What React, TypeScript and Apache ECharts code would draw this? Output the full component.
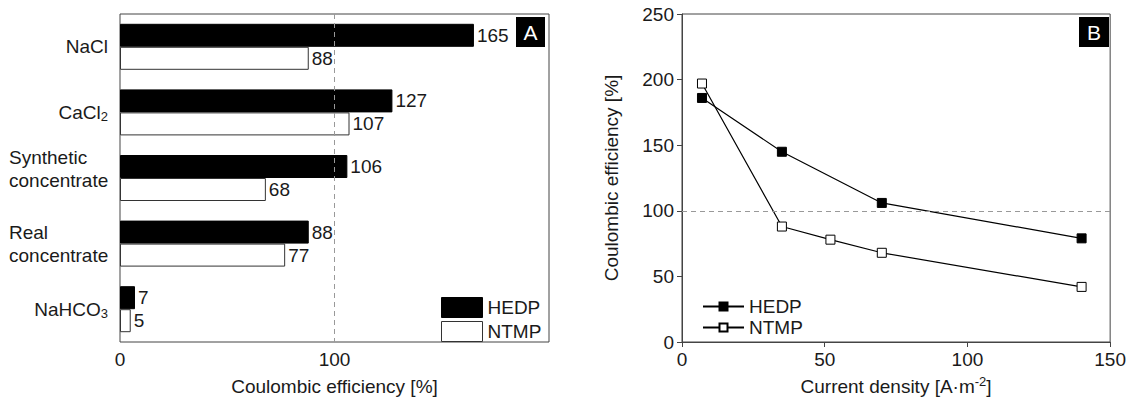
import React, { useEffect, useRef } from "react";
import * as echarts from "echarts";

// Panel A data
const categories = ["NaCl", "CaCl2", "Synthetic concentrate", "Real concentrate", "NaHCO3"];
const hedpBar = [165, 127, 106, 88, 7];
const ntmpBar = [88, 107, 68, 77, 5];

// Panel B data
const hedpLine: [number, number][] = [[7, 186], [35, 145], [70, 106], [140, 79]];
const ntmpLine: [number, number][] = [[7, 197], [35, 88], [52, 78], [70, 68], [140, 42]];

const FONT = "'Liberation Sans', Arial, sans-serif";
const TXT = "#1a1a1a";
const BORDER = "#444";
const FS = 19;

const catLabel = (v: string) => {
  switch (v) {
    case "NaCl": return "{n|NaCl}";
    case "CaCl2": return "{n|CaCl}{sub|2}";
    case "Synthetic concentrate": return "{l|Synthetic}\n{l|concentrate}\n{gap| }";
    case "Real concentrate": return "{l|Real}\n{l|concentrate}";
    case "NaHCO3": return "{n|NaHCO}{sub|3}";
    default: return v;
  }
};

function optionA(): any {
  return {
    animation: false,
    textStyle: { fontFamily: FONT },
    grid: { left: 120, right: 16, top: 14, bottom: 64, show: true, borderColor: BORDER, borderWidth: 1 },
    xAxis: {
      type: "value", min: 0, max: 200, interval: 100,
      axisLine: { show: false }, axisTick: { show: false }, splitLine: { show: false },
      axisLabel: { fontSize: FS, color: TXT, margin: 8, showMaxLabel: false, fontFamily: FONT },
      name: "Coulombic efficiency [%]", nameLocation: "middle", nameGap: 35,
      nameTextStyle: { fontSize: FS, color: TXT, fontFamily: FONT },
    },
    yAxis: {
      type: "category", data: categories, inverse: true,
      axisLine: { show: false }, axisTick: { show: false }, splitLine: { show: false },
      axisLabel: {
        margin: 12, color: TXT, fontSize: FS, fontFamily: FONT,
        formatter: catLabel,
        rich: {
          n: { fontSize: FS, lineHeight: 22, color: TXT, fontFamily: FONT },
          sub: { fontSize: 13, lineHeight: 10, verticalAlign: "bottom", color: TXT, fontFamily: FONT },
          l: { fontSize: FS, lineHeight: 23, width: 99, align: "left", color: TXT, fontFamily: FONT },
          gap: { fontSize: 6, lineHeight: 18 },
        },
      },
    },
    legend: {
      left: 436, top: 292, orient: "vertical", itemWidth: 41, itemHeight: 20, itemGap: 3,
      textStyle: { fontSize: FS, color: TXT, fontFamily: FONT },
      data: [
        { name: "HEDP", icon: "rect", itemStyle: { color: "#000", borderColor: "#000", borderWidth: 1 } },
        { name: "NTMP", icon: "rect", itemStyle: { color: "#fff", borderColor: "#333", borderWidth: 1 } },
      ],
    },
    graphic: [
      {
        type: "group", left: 516, top: 17,
        children: [
          { type: "rect", shape: { x: 0, y: 0, width: 29, height: 30 }, style: { fill: "#000" } },
          { type: "text", x: 14.5, y: 15, style: { text: "A", fill: "#fff", fontSize: 21, fontFamily: FONT, align: "center", verticalAlign: "middle" } },
        ],
      },
    ],
    series: [
      {
        type: "bar", name: "HEDP", data: hedpBar, barWidth: 23, barGap: "0%",
        itemStyle: { color: "#000", borderColor: "#000", borderWidth: 1 },
        label: { show: true, position: "right", distance: 3, fontSize: FS, color: TXT, fontFamily: FONT },
        markLine: {
          silent: true, symbol: "none", label: { show: false },
          lineStyle: { type: [5, 4], color: "#999", width: 1 },
          data: [{ xAxis: 100 }],
        },
      },
      {
        type: "bar", name: "NTMP", data: ntmpBar, barWidth: 23, barGap: "0%",
        itemStyle: { color: "#fff", borderColor: "#333", borderWidth: 1 },
        label: { show: true, position: "right", distance: 3, fontSize: FS, color: TXT, fontFamily: FONT },
      },
    ],
  };
}

function optionB(): any {
  const axisCommon = {
    type: "value",
    axisLine: { show: true, lineStyle: { color: BORDER, width: 1 } },
    axisTick: { show: true, inside: false, length: 5, lineStyle: { color: BORDER } },
    splitLine: { show: false },
    axisLabel: { fontSize: FS, color: TXT, margin: 8, fontFamily: FONT },
  };
  return {
    animation: false,
    textStyle: { fontFamily: FONT },
    grid: { left: 117, right: 17, top: 14, bottom: 64, show: true, borderColor: BORDER, borderWidth: 1 },
    xAxis: {
      ...axisCommon, min: 0, max: 150, interval: 50,
      name: "Current density [A·m{sup|-2}]", nameLocation: "middle", nameGap: 33,
      nameTextStyle: {
        fontSize: FS, color: TXT, fontFamily: FONT, lineHeight: 22,
        rich: { sup: { fontSize: 13, lineHeight: 10, verticalAlign: "top", color: TXT, fontFamily: FONT } },
      },
    },
    yAxis: {
      ...axisCommon, min: 0, max: 250, interval: 50,
      name: "Coulombic efficiency [%]", nameLocation: "middle", nameGap: 61,
      nameTextStyle: { fontSize: FS, color: TXT, fontFamily: FONT },
    },
    legend: {
      left: 132, top: 292, orient: "vertical", itemWidth: 41, itemHeight: 10, itemGap: 2,
      textStyle: { fontSize: FS, color: TXT, fontFamily: FONT },
      data: ["HEDP", "NTMP"],
    },
    graphic: [
      {
        type: "group", left: 514, top: 17,
        children: [
          { type: "rect", shape: { x: 0, y: 0, width: 30, height: 30 }, style: { fill: "#000" } },
          { type: "text", x: 15, y: 15, style: { text: "B", fill: "#fff", fontSize: 21, fontFamily: FONT, align: "center", verticalAlign: "middle" } },
        ],
      },
    ],
    series: [
      {
        type: "line", name: "HEDP", data: hedpLine, symbol: "rect", symbolSize: 9,
        itemStyle: { color: "#000", borderColor: "#000", borderWidth: 1 },
        lineStyle: { color: "#000", width: 1.2 },
        markLine: {
          silent: true, symbol: "none", label: { show: false },
          lineStyle: { type: [5, 4], color: "#999", width: 1 },
          data: [{ yAxis: 100 }],
        },
      },
      {
        type: "line", name: "NTMP", data: ntmpLine, symbol: "rect", symbolSize: 9,
        itemStyle: { color: "#fff", borderColor: "#000", borderWidth: 1 },
        lineStyle: { color: "#000", width: 1.2 },
      },
    ],
  };
}

export default function App() {
  const refA = useRef<HTMLDivElement>(null);
  const refB = useRef<HTMLDivElement>(null);
  useEffect(() => {
    const a = echarts.init(refA.current!, null, { renderer: "svg" });
    const b = echarts.init(refB.current!, null, { renderer: "svg" });
    a.setOption(optionA());
    b.setOption(optionB());
    return () => { a.dispose(); b.dispose(); };
  }, []);
  return (
    <div style={{ position: "fixed", left: 0, top: 0, width: 1129, height: 406, background: "#fff" }}>
      <div ref={refA} style={{ position: "absolute", left: 0, top: 0, width: 565, height: 406 }} />
      <div ref={refB} style={{ position: "absolute", left: 565, top: 0, width: 564, height: 406 }} />
    </div>
  );
}
